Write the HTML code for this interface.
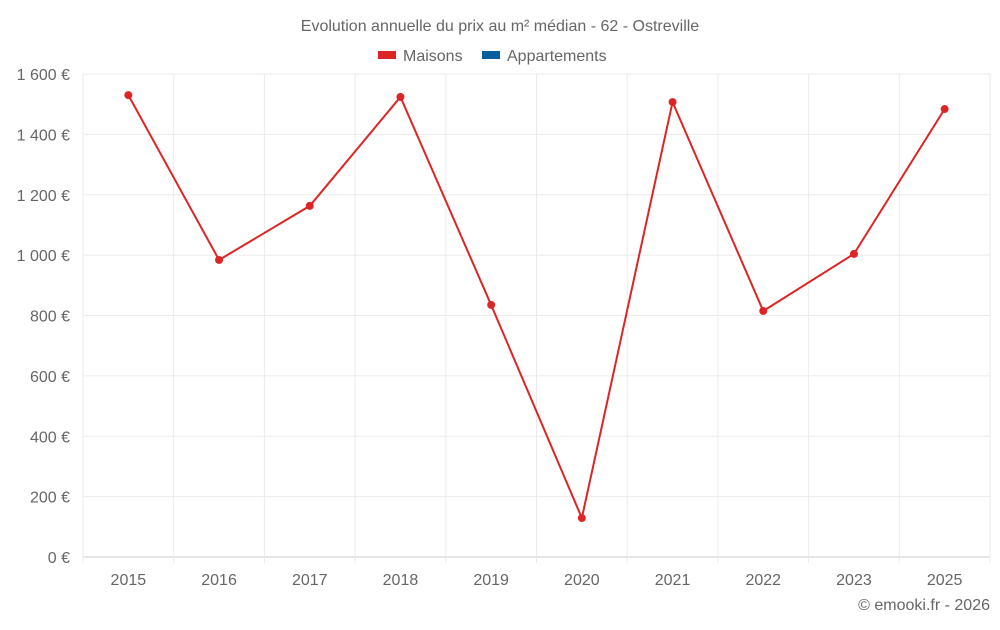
<!DOCTYPE html>
<html><head><meta charset="utf-8"><style>
body{margin:0;background:#fff;font-family:"Liberation Sans",sans-serif;}
svg text{font-family:"Liberation Sans",sans-serif;fill:#666;}
</style></head><body>
<svg id="c" width="1000" height="625">
<text x="500" y="31" text-anchor="middle" font-size="16">Evolution annuelle du prix au m² médian - 62 - Ostreville</text>
<g>
<g><rect x="378" y="51" width="18" height="8" fill="#dc2626"/><text x="403" y="61" font-size="16">Maisons</text></g>
<g><rect x="482" y="51" width="18" height="8" fill="#075f9b"/><text x="507" y="61" font-size="16">Appartements</text></g>
</g>
<g id="grid"></g><g id="axes"></g><g id="series"></g>
<text x="990" y="610" text-anchor="end" font-size="16">© emooki.fr - 2026</text>
</svg>
<script>
const categories=["2015","2016","2017","2018","2019","2020","2021","2022","2023","2025"];
const maisons=[1530,984,1163,1524,835,129,1507,815,1004,1484];
const yTicks=[0,200,400,600,800,1000,1200,1400,1600];
const yLabels=["0 €","200 €","400 €","600 €","800 €","1 000 €","1 200 €","1 400 €","1 600 €"];
const L=83,R=990,T=74,B=557,yMax=1600;
const ns="http://www.w3.org/2000/svg";
const band=(R-L)/categories.length;
const x=i=>L+band*(i+0.5);
const y=v=>B-(v/yMax)*(B-T);
function mk(t,a,p){const e=document.createElementNS(ns,t);for(const k in a)e.setAttribute(k,a[k]);p.appendChild(e);return e;}
const g=document.getElementById('grid'),ax=document.getElementById('axes'),s=document.getElementById('series');
yTicks.forEach((v,i)=>{
 const l=mk('line',{x1:L,x2:R,y1:y(v),y2:y(v),stroke:v===0?'#ccc':'#ebebeb'},g);
 
 
 const t=mk('text',{x:70,y:y(v)+6,'text-anchor':'end','font-size':16},ax);
 t.textContent=yLabels[i];
 
 
});
for(let i=0;i<=categories.length;i++){
 const l=mk('line',{x1:L+band*i,x2:L+band*i,y1:T,y2:B+6,stroke:'#ebebeb'},g);
 
 
}
categories.forEach((c,i)=>{
 const t=mk('text',{x:x(i),y:585,'text-anchor':'middle','font-size':16},ax);
 t.textContent=c;
 
 
});
const p=mk('polyline',{points:maisons.map((v,i)=>x(i)+','+y(v)).join(' '),fill:'none',stroke:'#dc2626','stroke-width':2},s);


maisons.forEach((v,i)=>{
 const c=mk('circle',{cx:x(i),cy:y(v),r:4,fill:'#dc2626'},s);
 
 
});
</script>
</body></html>
